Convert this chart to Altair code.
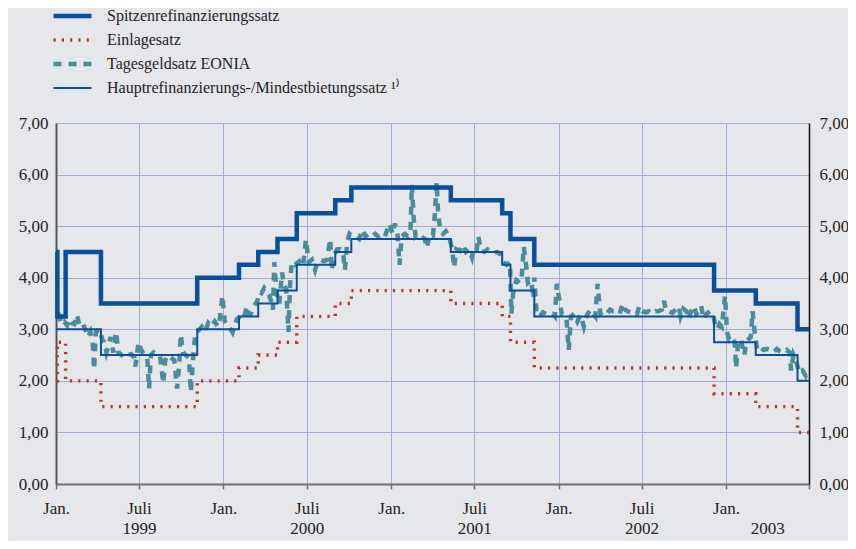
import altair as alt
import pandas as pd

# ---------------- data ----------------
series_names = [
    "Spitzenrefinanzierungssatz",
    "Einlagesatz",
    "Tagesgeldsatz EONIA",
    "Hauptrefinanzierungs-/Mindestbietungssatz ¹⁾",
]

rate_dates = ["1999-01-01", "1999-01-04", "1999-01-22", "1999-04-09", "1999-11-05",
              "2000-02-04", "2000-03-17", "2000-04-28", "2000-06-09", "2000-09-01",
              "2000-10-06", "2001-05-11", "2001-08-31", "2001-09-18", "2001-11-09",
              "2002-12-06", "2003-03-07", "2003-06-06", "2003-07-01"]
spitzen = [4.50, 3.25, 4.50, 3.50, 4.00, 4.25, 4.50, 4.75, 5.25, 5.50,
           5.75, 5.50, 5.25, 4.75, 4.25, 3.75, 3.50, 3.00, 3.00]
haupt = [3.00, 3.00, 3.00, 2.50, 3.00, 3.25, 3.50, 3.75, 4.25, 4.50,
         4.75, 4.50, 4.25, 3.75, 3.25, 2.75, 2.50, 2.00, 2.00]
einlage = [2.00, 2.75, 2.00, 1.50, 2.00, 2.25, 2.50, 2.75, 3.25, 3.50,
           3.75, 3.50, 3.25, 2.75, 2.25, 1.75, 1.50, 1.00, 1.00]

eonia_dates = [
    "1999-01-04", "1999-01-08", "1999-01-13", "1999-01-19", "1999-01-25", "1999-01-29",
    "1999-02-04", "1999-02-10", "1999-02-16", "1999-02-19", "1999-02-24", "1999-03-01",
    "1999-03-08", "1999-03-12", "1999-03-17", "1999-03-22", "1999-03-25", "1999-03-29",
    "1999-04-06", "1999-04-12", "1999-04-16", "1999-04-21", "1999-04-26", "1999-04-30",
    "1999-05-06", "1999-05-12", "1999-05-17", "1999-05-24", "1999-05-31", "1999-06-07",
    "1999-06-14", "1999-06-21", "1999-06-23", "1999-06-30", "1999-07-06", "1999-07-12",
    "1999-07-19", "1999-07-23", "1999-07-27", "1999-08-02", "1999-08-09", "1999-08-16",
    "1999-08-23", "1999-08-27", "1999-09-02", "1999-09-09", "1999-09-16", "1999-09-22",
    "1999-09-27", "1999-09-30", "1999-10-05", "1999-10-11", "1999-10-18", "1999-10-22",
    "1999-10-27", "1999-11-01", "1999-11-08", "1999-11-15", "1999-11-22", "1999-11-29",
    "1999-12-06", "1999-12-13", "1999-12-20", "1999-12-24", "1999-12-30",
    "2000-01-04", "2000-01-10", "2000-01-17", "2000-01-21", "2000-01-26", "2000-01-31",
    "2000-02-07", "2000-02-14", "2000-02-21", "2000-02-25", "2000-03-01", "2000-03-08",
    "2000-03-15", "2000-03-20", "2000-03-24", "2000-03-30", "2000-04-05", "2000-04-10",
    "2000-04-14", "2000-04-18", "2000-04-21", "2000-04-26", "2000-05-02", "2000-05-08",
    "2000-05-12", "2000-05-17", "2000-05-22", "2000-05-25", "2000-05-29", "2000-06-05",
    "2000-06-12", "2000-06-19", "2000-06-23", "2000-06-29", "2000-07-05", "2000-07-12",
    "2000-07-19", "2000-07-24", "2000-07-31", "2000-08-07", "2000-08-14", "2000-08-21",
    "2000-08-24", "2000-08-30", "2000-09-05", "2000-09-12", "2000-09-18", "2000-09-22",
    "2000-09-27", "2000-10-02", "2000-10-09", "2000-10-16", "2000-10-23", "2000-10-30",
    "2000-11-06", "2000-11-13", "2000-11-20", "2000-11-27", "2000-12-04", "2000-12-11",
    "2000-12-18", "2000-12-28",
    "2001-01-04", "2001-01-09", "2001-01-15", "2001-01-19", "2001-01-24", "2001-01-31",
    "2001-02-06", "2001-02-12", "2001-02-15", "2001-02-19", "2001-02-23", "2001-03-01",
    "2001-03-08", "2001-03-15", "2001-03-20", "2001-03-26", "2001-04-02", "2001-04-06",
    "2001-04-10", "2001-04-13", "2001-04-18", "2001-04-24", "2001-04-30", "2001-05-07",
    "2001-05-14", "2001-05-18", "2001-05-23", "2001-05-30", "2001-06-06", "2001-06-13",
    "2001-06-20", "2001-06-26", "2001-06-29", "2001-07-06", "2001-07-10", "2001-07-16",
    "2001-07-23", "2001-07-30", "2001-08-06", "2001-08-13", "2001-08-20", "2001-08-27",
    "2001-09-03", "2001-09-10", "2001-09-17", "2001-09-20", "2001-09-25", "2001-10-01",
    "2001-10-08", "2001-10-12", "2001-10-17", "2001-10-22", "2001-10-26", "2001-11-02",
    "2001-11-07", "2001-11-09", "2001-11-14", "2001-11-21", "2001-11-28", "2001-12-05",
    "2001-12-12", "2001-12-19", "2001-12-24", "2001-12-28",
    "2002-01-03", "2002-01-08", "2002-01-14", "2002-01-18", "2002-01-23", "2002-01-28",
    "2002-02-04", "2002-02-11", "2002-02-18", "2002-02-25", "2002-03-04", "2002-03-11",
    "2002-03-18", "2002-03-22", "2002-03-27", "2002-04-02", "2002-04-09", "2002-04-16",
    "2002-04-23", "2002-04-30", "2002-05-07", "2002-05-14", "2002-05-21", "2002-05-24",
    "2002-05-31", "2002-06-07", "2002-06-14", "2002-06-21", "2002-06-26", "2002-07-03",
    "2002-07-10", "2002-07-17", "2002-07-24", "2002-07-31", "2002-08-07", "2002-08-14",
    "2002-08-19", "2002-08-23", "2002-08-30", "2002-09-06", "2002-09-13", "2002-09-20",
    "2002-09-24", "2002-09-30", "2002-10-07", "2002-10-11", "2002-10-16", "2002-10-23",
    "2002-10-28", "2002-11-04", "2002-11-08", "2002-11-13", "2002-11-20", "2002-11-27",
    "2002-12-04", "2002-12-09", "2002-12-13", "2002-12-18", "2002-12-23", "2002-12-30",
    "2003-01-03", "2003-01-08", "2003-01-14", "2003-01-20", "2003-01-23", "2003-01-28",
    "2003-02-03", "2003-02-10", "2003-02-14", "2003-02-19", "2003-02-24", "2003-02-28",
    "2003-03-05", "2003-03-10", "2003-03-17", "2003-03-24", "2003-03-31", "2003-04-07",
    "2003-04-14", "2003-04-22", "2003-04-28", "2003-05-06", "2003-05-13", "2003-05-20",
    "2003-05-23", "2003-05-28", "2003-06-04", "2003-06-10", "2003-06-17", "2003-06-24",
    "2003-06-30",
]
eonia_values = [
    3.20, 3.25, 3.10, 3.15, 3.08, 3.20,
    3.12, 3.10, 3.28, 3.15, 3.05, 3.10,
    2.95, 2.85, 2.95, 2.75, 2.22, 2.95,
    3.00, 2.80, 2.75, 2.55, 2.70, 2.85,
    2.55, 2.95, 2.55, 2.50, 2.55, 2.50,
    2.52, 2.45, 2.28, 2.75, 2.60, 2.50,
    2.45, 1.85, 2.50, 2.55, 2.50, 2.48,
    1.95, 2.40, 2.50, 2.45, 2.40, 1.85,
    2.35, 2.90, 2.55, 2.50, 2.45, 1.78,
    2.45, 2.94, 2.98, 3.05, 2.95, 3.12,
    3.05, 3.15, 3.05, 3.20, 3.65,
    3.15, 3.05, 3.00, 2.94, 3.10, 3.20,
    3.25, 3.20, 3.45, 3.30, 3.30, 3.45,
    3.55, 3.72, 3.70, 3.80, 3.72, 3.65,
    3.55, 3.38, 4.30, 3.70, 3.50, 4.10,
    3.85, 3.77, 2.95, 3.80, 4.30, 4.25,
    4.30, 4.35, 4.25, 4.74, 4.30, 4.35,
    4.15, 4.30, 4.35, 4.32, 4.35, 4.75,
    4.15, 4.45, 4.55, 4.55, 4.50, 4.15,
    4.70, 4.85, 4.80, 4.80, 4.75, 4.93,
    4.80, 4.85, 4.80, 4.85, 4.80, 4.85,
    4.80, 5.05,
    4.85, 5.05, 4.82, 4.25, 4.80, 4.85,
    4.80, 4.90, 5.80, 5.15, 4.80, 4.85,
    4.80, 4.75, 4.58, 4.85, 4.82, 5.20,
    5.85, 5.30, 4.90, 4.85, 4.90, 4.80,
    4.55, 4.20, 4.55, 4.52, 4.64, 4.50,
    4.55, 4.40, 4.55, 4.50, 4.80, 4.52,
    4.50, 4.55, 4.50, 4.48, 4.50, 4.45,
    4.30, 4.25, 4.30, 3.30, 3.80, 3.95,
    3.90, 3.95, 4.60, 4.25, 3.90, 3.95,
    3.60, 4.00, 3.30, 3.25, 3.33, 3.30,
    3.28, 3.30, 3.25, 3.88,
    3.55, 3.30, 3.28, 3.25, 2.60, 3.25,
    3.30, 3.15, 3.28, 3.05, 3.28, 3.38,
    3.30, 3.25, 3.88, 3.30, 3.35, 3.30,
    3.38, 3.35, 3.35, 3.30, 3.50, 3.40,
    3.35, 3.33, 3.35, 3.30, 3.45, 3.35,
    3.33, 3.35, 3.30, 3.35, 3.35, 3.38,
    3.55, 3.35, 3.35, 3.32, 3.38, 3.45,
    3.25, 3.40, 3.35, 3.20, 3.33, 3.45,
    3.30, 3.35, 3.45, 3.20, 3.30, 3.35,
    3.30, 3.05, 3.00, 3.10, 3.05, 3.65,
    2.95, 2.80, 2.85, 2.75, 2.25, 2.80,
    2.78, 2.50, 2.75, 2.80, 2.85, 3.35,
    2.90, 2.60, 2.65, 2.60, 2.62, 2.60,
    2.55, 2.62, 2.58, 2.55, 2.60, 2.55,
    2.20, 2.50, 2.35, 2.15, 2.20, 2.10,
    2.20,
]

x_tick_dates = ["1999-01-01", "1999-07-01", "2000-01-01", "2000-07-01", "2001-01-01",
                "2001-07-01", "2002-01-01", "2002-07-01", "2003-01-01", "2003-07-01"]
year_label_dates = ["1999-07-01", "2000-07-01", "2001-07-01", "2002-07-01", "2003-04-01"]
y_ticks = [0, 1, 2, 3, 4, 5, 6, 7]

# ---------------- tables ----------------
rates = pd.concat([
    pd.DataFrame({"date": rate_dates, "value": spitzen, "series": series_names[0]}),
    pd.DataFrame({"date": rate_dates, "value": einlage, "series": series_names[1]}),
    pd.DataFrame({"date": rate_dates, "value": haupt, "series": series_names[3]}),
])
eonia = pd.DataFrame({"date": eonia_dates, "value": eonia_values, "series": series_names[2]})


def dt(s):
    y, m, d = (int(p) for p in s.split("-"))
    return alt.DateTime(year=y, month=m, date=d, utc=True)


BG = "#e6e7ea"
FONT = "Liberation Serif"
TXT = "#222222"
GRID = "#a3abd6"
BLUE = "#0a4f9c"

x_scale = alt.Scale(type="utc", domain=[dt("1999-01-01"), dt("2003-07-01")])
y_scale = alt.Scale(domain=[0, 7], nice=False)

color_scale = alt.Scale(domain=series_names, range=[BLUE, "#b5382c", "#4b8c9b", BLUE])
dash_scale = alt.Scale(domain=series_names, range=[[1, 0], [2.2, 6.1], [8, 7], [1, 0]])
width_scale = alt.Scale(type="ordinal", domain=series_names, range=[4.5, 3.4, 4.5, 2])

legend = alt.Legend(
    title=None, orient="none", legendX=-5, legendY=-115, padding=0,
    symbolType="stroke", symbolSize=1444, clipHeight=16,
    labelFont=FONT, labelFontSize=16,
    labelColor=TXT, labelOffset=13, rowPadding=8, labelLimit=600,
)

main_x_axis = alt.Axis(
    orient="bottom",
    values=[dt(d) for d in x_tick_dates],
    labelExpr="utcmonth(datum.value) == 0 ? 'Jan.' : (utcyear(datum.value) == 2003 ? '' : 'Juli')",
    grid=True, gridColor=GRID, gridWidth=1,
    domainColor="#707070", domainWidth=2, tickColor="#707070", tickSize=5, tickWidth=1.5,
    labelPadding=11, labelFont=FONT, labelFontSize=17, labelColor=TXT, labelAngle=0,
    labelFlush=False, labelOverlap=False, title=None,
)
year_x_axis = alt.Axis(
    orient="bottom",
    values=[dt(d) for d in year_label_dates],
    labelExpr="'' + utcyear(datum.value)",
    grid=False, ticks=False, domain=False,
    labelPadding=36, labelFont=FONT, labelFontSize=17, labelColor=TXT, labelAngle=0,
    labelFlush=False, labelOverlap=False, title=None,
)
left_y_axis = alt.Axis(
    orient="left", values=y_ticks, format=".2f", labelExpr="replace(datum.label, '.', ',')",
    grid=True, gridColor=GRID, gridWidth=1, ticks=False,
    domainColor="#555555", domainWidth=2, labelPadding=8,
    labelFont=FONT, labelFontSize=17, labelColor=TXT, title=None,
)
right_y_axis = alt.Axis(
    orient="right", values=y_ticks, format=".2f", labelExpr="replace(datum.label, '.', ',')",
    grid=False, ticks=False, domainColor="#111111", domainWidth=1.5, labelPadding=10,
    labelFont=FONT, labelFontSize=17, labelColor=TXT, title=None,
)

eonia_layer = alt.Chart(eonia).mark_line(strokeJoin="miter").encode(
    x=alt.X("date:T", scale=x_scale, axis=year_x_axis),
    y=alt.Y("value:Q", scale=y_scale, axis=right_y_axis),
    color=alt.Color("series:N", scale=color_scale, legend=legend),
    strokeDash=alt.StrokeDash("series:N", scale=dash_scale, legend=legend),
    strokeWidth=alt.StrokeWidth("series:N", scale=width_scale, legend=legend),
)

rates_layer = alt.Chart(rates).mark_line(interpolate="step-after").encode(
    x=alt.X("date:T", scale=x_scale, axis=main_x_axis),
    y=alt.Y("value:Q", scale=y_scale, axis=left_y_axis),
    color=alt.Color("series:N", scale=color_scale, legend=legend),
    strokeDash=alt.StrokeDash("series:N", scale=dash_scale, legend=legend),
    strokeWidth=alt.StrokeWidth("series:N", scale=width_scale, legend=legend),
    detail="series:N",
)

chart = alt.layer(eonia_layer, rates_layer).resolve_axis(
    x="independent", y="independent"
).properties(
    width=753, height=361, autosize="none",
    padding={"left": 48, "top": 115, "right": 39, "bottom": 57},
    background=BG,
).configure_view(stroke=None)

chart.save("out.html", embed_options={"renderer": "svg", "actions": False})
